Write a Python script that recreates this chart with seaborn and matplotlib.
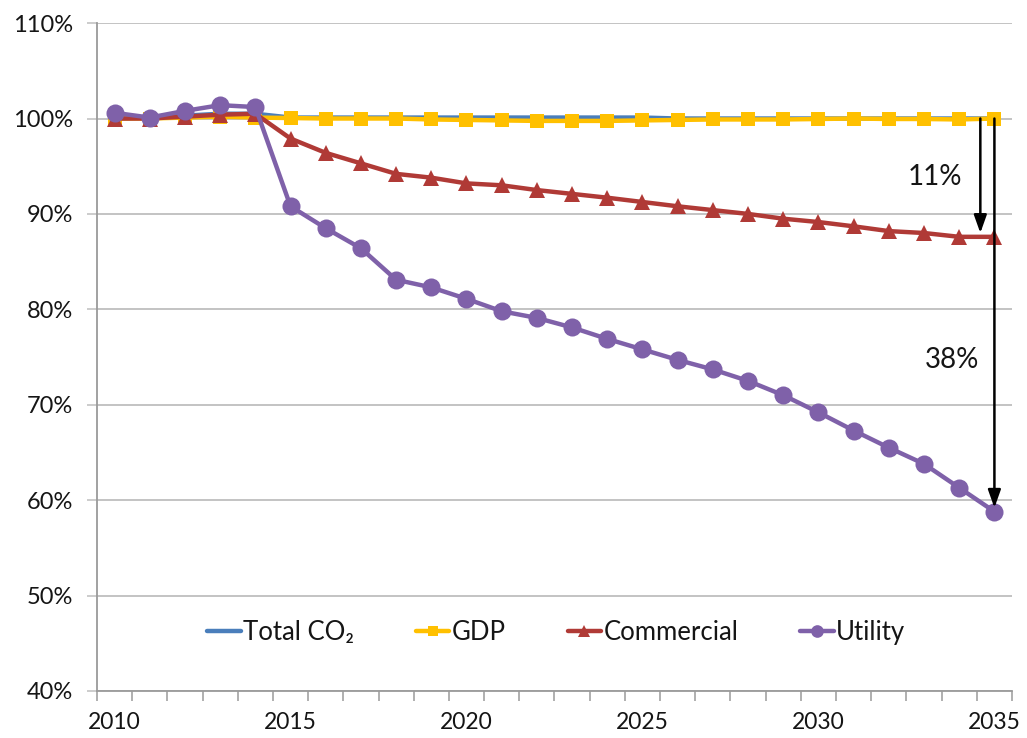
import matplotlib
matplotlib.use("Agg")
import matplotlib.pyplot as plt
from matplotlib.ticker import FixedLocator, FuncFormatter
import seaborn as sns
import pandas as pd

# Index (2010 = 100%) of emissions and GDP, 2010-2035
years = list(range(2010, 2036))
total_co2 = [100.0, 100.1, 100.3, 100.5, 100.5, 100.1, 100.1, 100.1, 100.1, 100.1,
             100.1, 100.1, 100.1, 100.1, 100.1, 100.1, 100.0, 100.0, 100.0, 100.0,
             100.0, 100.0, 100.0, 100.0, 100.0, 100.0]
gdp = [100.0, 100.0, 100.1, 100.2, 100.1, 100.05, 100.0, 100.0, 100.0, 99.9,
       99.85, 99.8, 99.75, 99.75, 99.75, 99.8, 99.85, 99.9, 99.9, 99.9,
       99.95, 100.0, 99.95, 99.95, 99.9, 100.0]
commercial = [100.0, 100.0, 100.2, 100.4, 100.5, 97.9, 96.4, 95.3, 94.2, 93.8,
              93.2, 93.0, 92.5, 92.1, 91.7, 91.25, 90.8, 90.4, 90.0, 89.5,
              89.15, 88.7, 88.2, 88.0, 87.6, 87.6]
utility = [100.6, 100.1, 100.8, 101.4, 101.2, 90.8, 88.5, 86.4, 83.1, 82.3,
           81.1, 79.8, 79.1, 78.1, 76.9, 75.8, 74.7, 73.7, 72.5, 71.0,
           69.2, 67.3, 65.5, 63.8, 61.3, 58.8]

series_names = ["Total CO\u2082", "GDP", "Commercial", "Utility"]
series_values = [total_co2, gdp, commercial, utility]

# Reduction labels shown next to the arrows
cut_labels = ["11%", "38%"]

sns.set_theme(style="white")
plt.rcParams["font.family"] = ["Lato", "DejaVu Sans"]

styles = {
    series_names[0]: dict(color="#4A7EBB", marker=None, markersize=0),
    series_names[1]: dict(color="#FFC000", marker="s", markersize=10),
    series_names[2]: dict(color="#B03A36", marker="^", markersize=12),
    series_names[3]: dict(color="#7F61A9", marker="o", markersize=13),
}

df = pd.DataFrame({"year": years})
for name, vals in zip(series_names, series_values):
    df[name] = vals

fig = plt.figure(figsize=(10.27, 7.38), dpi=100)
ax = fig.add_axes([0.0944, 0.0637, 0.891, 0.905])

for name in series_names:
    st = styles[name]
    kw = dict(color=st["color"], linewidth=3.2, label=name)
    if st["marker"]:
        kw.update(marker=st["marker"], markersize=st["markersize"],
                  markeredgecolor=st["color"], markeredgewidth=0)
    sns.lineplot(data=df, x="year", y=name, ax=ax, **kw)

ax.set_xlim(2009.5, 2035.5)
ax.set_ylim(40, 110)
ax.set_xlabel("")
ax.set_ylabel("")

text_color = "#151515"

# y axis: gridlines every 10%
ax.set_yticks(range(40, 111, 10))
ax.yaxis.set_major_formatter(FuncFormatter(lambda v, p: f"{int(v)}%"))
ax.grid(axis="y", color="#BEBEBE", linewidth=1.3)
ax.set_axisbelow(True)

# x axis: labels every five years, tick marks between categories
ax.xaxis.set_major_locator(FixedLocator(list(range(2010, 2036, 5))))
ax.xaxis.set_minor_locator(FixedLocator([y - 0.5 for y in range(2010, 2037)]))
ax.tick_params(axis="x", which="major", length=0, pad=15, labelsize=16.5, labelcolor=text_color)
ax.tick_params(axis="x", which="minor", length=7, width=1.1, color="#9a9a9a", bottom=True)
ax.tick_params(axis="y", which="major", length=7, width=1.1, color="#BEBEBE", pad=10,
               labelsize=17, labelcolor=text_color, left=True)

for side in ["top", "right"]:
    ax.spines[side].set_visible(False)
for side in ["left", "bottom"]:
    ax.spines[side].set_color("#9a9a9a")
    ax.spines[side].set_linewidth(1.3)

# Arrows marking the 2035 reductions against the GDP baseline
arrow_kw = dict(arrowstyle="-|>,head_width=0.32,head_length=0.9", color="black", lw=1.8,
                shrinkA=0, shrinkB=0)
ax.annotate("", xy=(2034.6, 88.0), xytext=(2034.6, gdp[-1]), arrowprops=arrow_kw)
ax.annotate("", xy=(2035.0, 59.2), xytext=(2035.0, gdp[-1]), arrowprops=arrow_kw)
ax.text(2033.3, 93.9, cut_labels[0], fontsize=20, ha="center", va="center", color=text_color)
ax.text(2033.8, 74.7, cut_labels[1], fontsize=20, ha="center", va="center", color=text_color)

leg = ax.legend(loc="center", bbox_to_anchor=(0.502, 0.088), ncol=4, frameon=False,
                fontsize=18.5, handlelength=1.3, handletextpad=0.1, columnspacing=2.4,
                markerscale=0.7)
for t in leg.get_texts():
    t.set_color(text_color)

fig.savefig("out.png", dpi=100, facecolor="white")
